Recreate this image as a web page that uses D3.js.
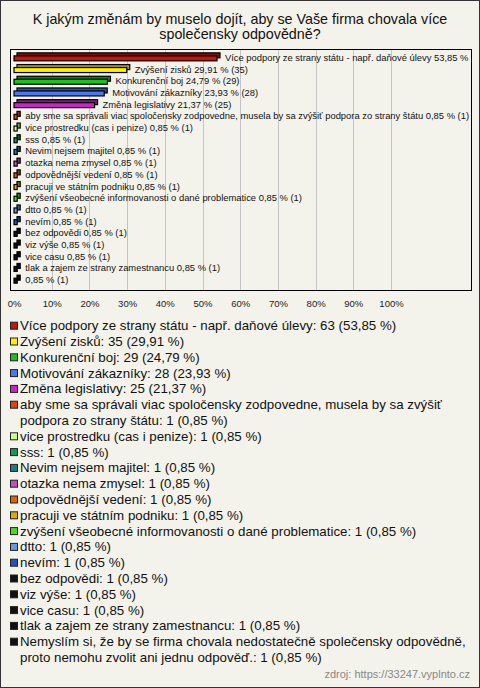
<!DOCTYPE html>
<html><head><meta charset="utf-8">
<script src="https://cdn.jsdelivr.net/npm/d3@7/dist/d3.min.js"></script>
<style>body{margin:0;background:#f4f3eb;overflow:hidden}svg{display:block}</style>
</head><body>
<svg id="chart" width="480" height="688"></svg>
<script>
const titleLines = ["K jakým změnám by muselo dojít, aby se Vaše firma chovala více", "společensky odpovědně?"];
const categories = [
  "Více podpory ze strany státu - např. daňové úlevy",
  "Zvýšení zisků",
  "Konkurenční boj",
  "Motivování zákazníky",
  "Změna legislativy",
  "aby sme sa správali viac spoločensky zodpovedne, musela by sa zvýšiť podpora zo strany štátu",
  "vice prostredku (cas i penize)",
  "sss",
  "Nevim nejsem majitel",
  "otazka nema zmysel",
  "odpovědnější vedení",
  "pracuji ve státním podniku",
  "zvýšení všeobecné informovanosti o dané problematice",
  "dtto",
  "nevím",
  "bez odpovědi",
  "viz výše",
  "vice casu",
  "tlak a zajem ze strany zamestnancu",
  "Nemyslím si, že by se firma chovala nedostatečně společensky odpovědně, proto nemohu zvolit ani jednu odpověď."
];
// the bar label of the last category is shown empty in the chart
const barNames = categories.map((c, i) => i === categories.length - 1 ? "" : c);
const counts = [63, 35, 29, 28, 25, 1, 1, 1, 1, 1, 1, 1, 1, 1, 1, 1, 1, 1, 1, 1];
const percents = [53.85, 29.91, 24.79, 23.93, 21.37, 0.85, 0.85, 0.85, 0.85, 0.85, 0.85, 0.85, 0.85, 0.85, 0.85, 0.85, 0.85, 0.85, 0.85, 0.85];
const xTicks = [0, 10, 20, 30, 40, 50, 60, 70, 80, 90, 100];
const sourceText = "zdroj: https://33247.vyplnto.cz";

const colors = ["#c0160c", "#ffee00", "#1ec01e", "#4a78ee", "#cc22cc", "#dd4411", "#ccff88", "#119955",
  "#227788", "#bb55bb", "#dd6600", "#ddaa00", "#44dd22", "#6699dd", "#2255bb",
  "#111111", "#111111", "#111111", "#111111", "#111111"];

const fmt = v => v.toFixed(2).replace(".", ",");
const svg = d3.select("#chart");
const FONT = "'Liberation Sans', Arial, sans-serif";

// outer frame
svg.append("rect").attr("x", 0.5).attr("y", 0.5).attr("width", 479).attr("height", 687)
  .attr("fill", "#f4f3eb").attr("stroke", "#333").attr("stroke-width", 1);

// title
svg.append("g").selectAll("text").data(titleLines).join("text")
  .attr("x", 240).attr("y", (d, i) => 24 + i * 14.5)
  .attr("text-anchor", "middle").attr("font-family", FONT).attr("font-size", 14.3)
  .attr("fill", "#111").text(d => d);

// plot box
const box = {x0: 10.5, y0: 49.5, x1: 471.5, y1: 290.5};
const x = d3.scaleLinear().domain([0, 100]).range([14, 391]);
const y = d3.scaleBand().domain(d3.range(categories.length)).range([51.5, 285.5]).paddingInner(0);

svg.append("defs").append("clipPath").attr("id", "clip").append("rect")
  .attr("x", box.x0).attr("y", box.y0).attr("width", box.x1 - box.x0).attr("height", box.y1 - box.y0);

// gridlines
svg.append("g").selectAll("line").data(xTicks.slice(1)).join("line")
  .attr("x1", d => Math.round(x(d)) + 0.5).attr("x2", d => Math.round(x(d)) + 0.5)
  .attr("y1", box.y0).attr("y2", box.y1).attr("stroke", "#c4c4c4").attr("stroke-width", 1);

// axis
const axis = d3.axisBottom(x).tickValues(xTicks).tickFormat(d => d + "%").tickSize(0).tickPadding(0);
const ag = svg.append("g").attr("transform", "translate(0,300)").call(axis);
ag.select(".domain").remove();
ag.selectAll("text").attr("font-family", FONT).attr("font-size", 9.5).attr("fill", "#222").attr("dy", "0.71em");

// bars
const plot = svg.append("g").attr("clip-path", "url(#clip)");
const bh = 5, dep = 3;
const bars = plot.selectAll("g.bar").data(categories.map((c, i) => ({i, c, p: percents[i], n: counts[i]}))).join("g");
bars.each(function(d) {
  const g = d3.select(this);
  const yc = y(d.i) + y.bandwidth() / 2;
  const x0 = x(0), x1 = x(d.p);
  const w = Math.max(x1 - x0, 1);
  const dark = d3.color(colors[d.i]).darker(1.2);
  // depth (back face)
  g.append("rect").attr("x", x0 + dep).attr("y", yc - bh / 2 - dep + 1).attr("width", w).attr("height", bh)
    .attr("fill", dark).attr("stroke", "#000").attr("stroke-width", 1.2);
  // front face
  g.append("rect").attr("x", x0).attr("y", yc - bh / 2 + 1).attr("width", w).attr("height", bh)
    .attr("fill", colors[d.i]).attr("stroke", "#000").attr("stroke-width", 1.2);
  g.append("text").attr("x", x1 + 8).attr("y", yc + 3.5)
    .attr("font-family", FONT).attr("font-size", 9.4).attr("fill", "#111")
    .text((barNames[d.i] ? barNames[d.i] + " " : "") + fmt(d.p) + " % (" + d.n + ")");
});

// box border on top
svg.append("rect").attr("x", box.x0).attr("y", box.y0).attr("width", box.x1 - box.x0).attr("height", box.y1 - box.y0)
  .attr("fill", "none").attr("stroke", "#000").attr("stroke-width", 1);

// legend
const lg = svg.append("g");
const step = 15.8, maxW = 452;
let row = 0;
categories.forEach((c, i) => {
  const yc = 325.7 + row * step;
  lg.append("rect").attr("x", 10.5).attr("y", yc - 3.5).attr("width", 7).attr("height", 7)
    .attr("fill", colors[i]).attr("stroke", "#222").attr("stroke-width", 1);
  const full = c + ": " + counts[i] + " (" + fmt(percents[i]) + " %)";
  const words = full.split(" ");
  let line = [];
  let t = lg.append("text").attr("x", 20).attr("y", yc + 4.5).attr("font-family", FONT)
    .attr("font-size", 13.3).attr("fill", "#111");
  words.forEach(wd => {
    line.push(wd);
    t.text(line.join(" "));
    if (t.node().getComputedTextLength() > maxW && line.length > 1) {
      line.pop();
      t.text(line.join(" "));
      line = [wd];
      row++;
      t = lg.append("text").attr("x", 20).attr("y", 325.7 + row * step + 4.5).attr("font-family", FONT)
        .attr("font-size", 13.3).attr("fill", "#111").text(wd);
    }
  });
  row++;
});

svg.append("text").attr("x", 470).attr("y", 678).attr("text-anchor", "end")
  .attr("font-family", FONT).attr("font-size", 11).attr("fill", "#888").text(sourceText);
</script>
</body></html>
